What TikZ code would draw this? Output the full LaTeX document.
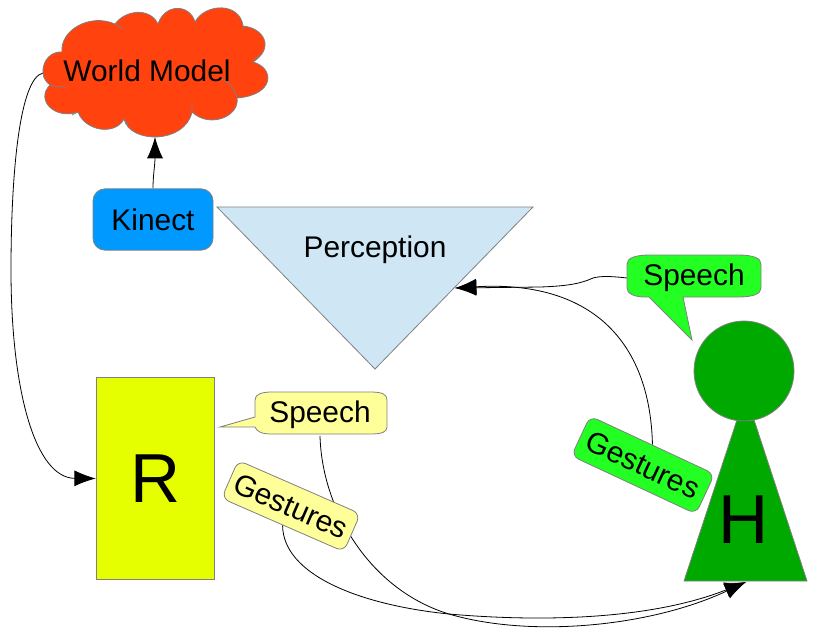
\documentclass[tikz,border=0pt]{standalone}
\usepackage{fontspec}
\setmainfont{Liberation Sans}
\usetikzlibrary{arrows.meta,backgrounds}

\definecolor{cloudred}{HTML}{FF420E}
\definecolor{kinectblue}{HTML}{0099FF}
\definecolor{perceptblue}{HTML}{CFE7F5}
\definecolor{robotyellow}{HTML}{E6FF00}
\definecolor{paleyellow}{HTML}{FFFF99}
\definecolor{brightgreen}{HTML}{23FF23}
\definecolor{humangreen}{HTML}{00A900}
\definecolor{edgegray}{HTML}{808080}

\tikzset{
    outline/.style={draw=edgegray, line width=0.6pt},
    label/.style={font=\fontsize{22.4}{26}\selectfont, inner sep=0pt},
    biglabel/.style={font=\fontsize{52}{60}\selectfont, inner sep=0pt},
    tag/.style={label, outline, rounded corners=6pt, minimum width=100pt, minimum height=31pt},
    link/.style={black, line width=0.6pt, -{Latex[length=16pt,width=12pt]}},
}

\begin{document}
\begin{tikzpicture}[x=0.75pt, y=-0.75pt]
    \useasboundingbox (0,0) rectangle (827,637);

    % World model cloud
    \path[outline, fill=cloudred] (43,73)
        .. controls (42,60) and (52,51) .. (62,52)
        .. controls (60,30) and (90,13) .. (115,24)
        .. controls (125,10) and (150,7) .. (158,24)
        .. controls (165,3) and (190,4) .. (195,22)
        .. controls (205,3) and (240,2) .. (243,26)
        .. controls (264,28) and (275,48) .. (253,62)
        .. controls (275,68) and (275,95) .. (237,98)
        .. controls (240,116) and (210,129) .. (192,112)
        .. controls (185,144) and (130,144) .. (124,119)
        .. controls (115,136) and (85,131) .. (78,112)
        .. controls (55,120) and (35,100) .. (50,85)
        .. controls (47,83) and (43,78) .. (43,73);
    \draw[outline] (50,85) .. controls (55,87) and (60,87) .. (67,87)
        (220,78) .. controls (228,81) and (235,88) .. (237,98)
        (253,62) -- (260,55)
        (115,24) -- (123,29)
        (243,26) -- (243,30)
        (192,112) -- (192,104)
        (124,119) -- (128,125)
        (78,112) -- (72,115);
    \node[label] (world) at (147,71) {World Model};
    \coordinate (cloudwest) at (43,73);
    \coordinate (cloudsouth) at (155,137);

    % Kinect and perception
    \node[label, outline, fill=kinectblue, rounded corners=9pt, minimum width=90pt, minimum height=46pt] (kinect) at (153,219.5) {Kinect};
    \path[outline, fill=perceptblue] (217,207) -- (533,207) -- (375,369) -- cycle;
    \node[label] (perception) at (375,250) {Perception};
    \coordinate (perceptside) at (455,288);

    % Robot
    \node[biglabel, outline, fill=robotyellow, minimum width=89pt, minimum height=152pt] (robot) at (155.5,478.5) {R};
    \path[outline, fill=paleyellow] (255,417) -- (220,427) -- (255,427)
        .. controls (257,432) and (262,434) .. (272,434) -- (370,434)
        .. controls (382,434) and (387,432) .. (387,427) -- (387,400)
        .. controls (387,394) and (382,392) .. (370,392) -- (272,392)
        .. controls (262,392) and (255,394) .. (255,400) -- cycle;
    \node[label, minimum width=99pt, minimum height=31pt] (speechr) at (320,415) {Speech};
    \node[tag, fill=paleyellow, rotate=-23.6] (gesturesr) at (291,506) {Gestures};

    % Human
    \path[outline, fill=humangreen] (745.5,394) -- (807,581) -- (684,581) -- cycle;
    \node[circle, outline, fill=humangreen, minimum size=75pt, inner sep=0pt] (head) at (744,371) {};
    \node[biglabel] (human) at (744,520) {H};
    \coordinate (humanfoot) at (746,582);
    \path[outline, fill=brightgreen] (627,264)
        .. controls (627,258) and (635,255) .. (650,255) -- (738,255)
        .. controls (753,255) and (761,258) .. (761,264) -- (761,288)
        .. controls (761,294) and (753,297) .. (738,297) -- (683,297)
        -- (692,340) -- (649,297) -- (645,297)
        .. controls (635,297) and (627,294) .. (627,288) -- cycle;
    \node[label, minimum width=100pt, minimum height=31pt] (speechh) at (694,278) {Speech};
    \node[tag, fill=brightgreen, minimum width=103pt, minimum height=33pt, rotate=-25] (gesturesh) at (643,465) {Gestures};

    % Connectors
    \begin{pgfonlayer}{background}
        \draw[link] (kinect.north) .. controls (153,175) and (155,165) .. (cloudsouth);
        \draw[link] (cloudwest) .. controls (20,78) and (11,170) .. (11,270)
            .. controls (11,390) and (35,478) .. (robot.west);
        \draw[link] (speechh.west) .. controls (610,276) and (600,276) .. (593,278)
            .. controls (582,283) and (570,286) .. (540,287) -- (perceptside);
        \draw[link] (gesturesh.north) .. controls (650,340) and (590,280) .. (perceptside);
        \draw[link] (speechr.south) .. controls (322,510) and (370,590) .. (449,614)
            .. controls (530,638) and (650,627) .. (humanfoot);
        \draw[link] (gesturesr.south) .. controls (283,575) and (360,605) .. (449,614)
            .. controls (540,622) and (650,620) .. (humanfoot);
    \end{pgfonlayer}
\end{tikzpicture}
\end{document}
